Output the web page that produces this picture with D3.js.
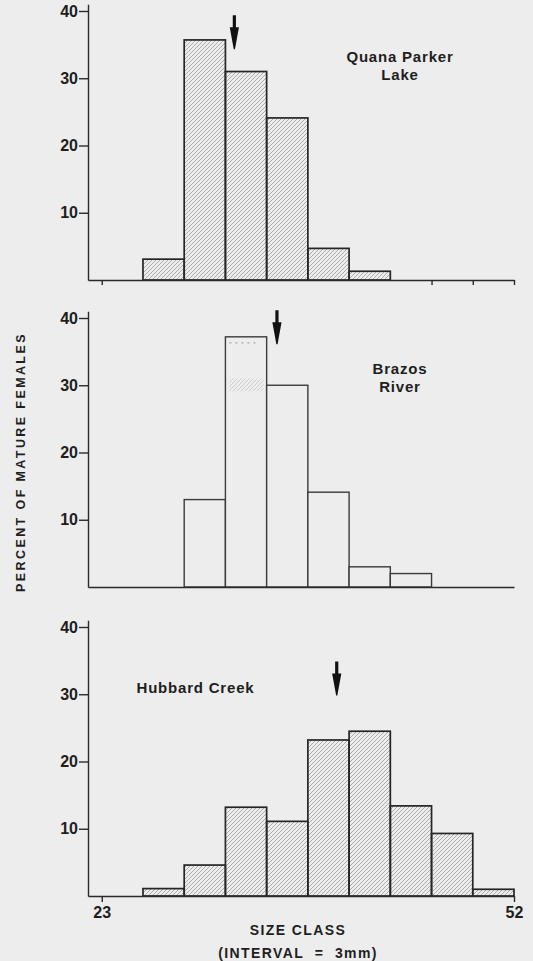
<!DOCTYPE html>
<html>
<head>
<meta charset="utf-8">
<script src="https://cdn.jsdelivr.net/npm/d3@7/dist/d3.min.js"></script>
<style>
  html, body { margin: 0; padding: 0; background: #ededed; }
  svg { display: block; }
  text { font-family: "Liberation Sans", Arial, Helvetica, sans-serif; fill: #1e1e1e; font-weight: bold; }
</style>
</head>
<body>
<svg id="chart" width="533" height="961"></svg>
<script>
// Size classes (lower bound, mm); each class spans 3 mm
const classStarts = [23, 26, 29, 32, 35, 38, 41, 44, 47, 50];
const classWidth = 3;

// Percent of mature females in each size class
const quanaParker  = [0, 3.1, 35.7, 31.0, 24.1, 4.7, 1.3, 0, 0, 0];
const brazosRiver  = [0, 0, 13.0, 37.2, 30.0, 14.1, 3.0, 2.0, 0, 0];
const hubbardCreek = [0, 1.1, 4.6, 13.2, 11.1, 23.2, 24.5, 13.4, 9.3, 1.0];

const panelNames = [["Quana Parker", "Lake"], ["Brazos", "River"], ["Hubbard Creek"]];

// Mean size (mm) marked by the arrow, and the percent level of the arrow tip
const meanSize = [32.65, 35.75, 40.1];
const arrowTip = [34.3, 36.1, 29.8];

// Faint partial shading inside the Brazos 32–34 mm class
const brazosShadeBand = [29.1, 31.0];
const brazosDottedLevel = 36.3;

const yTicks = [10, 20, 30, 40];
const xTickEdges = [23, 53];
const xTickLabels = ["23", "52"];
const topPanelTicks = [23, 47, 50, 53];

const yTitle = "PERCENT OF MATURE FEMALES";
const xTitle = "SIZE CLASS";
const xSubTitle = "(INTERVAL\u00a0\u00a0=\u00a0\u00a03mm)";

const series = [quanaParker, brazosRiver, hubbardCreek];

const svg = d3.select("#chart");
const defs = svg.append("defs");

// Diagonal hatch fill
const hatch = defs.append("pattern")
  .attr("id", "hatch")
  .attr("patternUnits", "userSpaceOnUse")
  .attr("width", 4).attr("height", 4);
hatch.append("path")
  .attr("d", "M-1,1 l2,-2 M0,4 l4,-4 M3,5 l2,-2")
  .attr("stroke", "#8e8e8e").attr("stroke-width", 0.7);

const x = d3.scaleLinear().domain([22, 53]).range([88, 514]);

const baselines = [280, 587, 896];
const span40 = 269;

series.forEach((vals, i) => {
  const base = baselines[i];
  const y = d3.scaleLinear().domain([0, 41]).range([base, base - span40 * 41 / 40]);
  const g = svg.append("g").attr("class", "panel");

  const bins = classStarts.map((s, j) => ({ start: s, value: vals[j] })).filter(d => d.value > 0);

  g.selectAll("rect.bar").data(bins).enter().append("rect")
    .attr("class", "bar")
    .attr("x", d => x(d.start))
    .attr("y", d => y(d.value))
    .attr("width", d => x(d.start + classWidth) - x(d.start))
    .attr("height", d => y(0) - y(d.value))
    .attr("fill", i === 1 ? "#ededed" : "url(#hatch)")
    .attr("stroke", i === 1 ? "#3a3a3a" : "#262626")
    .attr("stroke-width", i === 1 ? 1.4 : 1.7);

  if (i === 1) {
    const cls = 32;
    const x0 = x(cls) + 4, x1 = x(cls + classWidth) - 3;
    g.append("rect")
      .attr("x", x0).attr("width", x1 - x0)
      .attr("y", y(brazosShadeBand[1]))
      .attr("height", y(brazosShadeBand[0]) - y(brazosShadeBand[1]))
      .attr("fill", "url(#hatch)").attr("opacity", 0.45);
    g.append("line")
      .attr("x1", x0).attr("x2", x1 - 8)
      .attr("y1", y(brazosDottedLevel)).attr("y2", y(brazosDottedLevel))
      .attr("stroke", "#8a8a8a").attr("stroke-width", 0.9)
      .attr("stroke-dasharray", "2,4");
  }

  // Left axis
  const yAxis = g.append("g")
    .attr("transform", `translate(${x(22)},0)`)
    .call(d3.axisLeft(y).tickValues(yTicks).tickSize(9).tickPadding(1).tickSizeOuter(0));
  yAxis.attr("font-family", null).attr("font-size", null);
  yAxis.selectAll("path, line").attr("stroke", "#2a2a2a").attr("stroke-width", 1.4);
  yAxis.selectAll("text").style("font-size", "16px").attr("fill", "#1e1e1e");

  // Baseline and bottom ticks
  let xAx;
  if (i === 0) {
    xAx = d3.axisBottom(x).tickValues(topPanelTicks).tickSize(5).tickFormat(() => "");
  } else if (i === 2) {
    xAx = d3.axisBottom(x).tickValues(xTickEdges).tickSize(6).tickPadding(5)
      .tickFormat((d) => xTickLabels[xTickEdges.indexOf(d)]);
  } else {
    xAx = d3.axisBottom(x).tickValues([]);
  }
  xAx.tickSizeOuter(0);
  const xAxis = g.append("g").attr("transform", `translate(0,${y(0)})`).call(xAx);
  xAxis.attr("font-family", null).attr("font-size", null);
  xAxis.selectAll("path, line").attr("stroke", "#2a2a2a").attr("stroke-width", 1.4);
  xAxis.selectAll("text").style("font-size", "16px").attr("fill", "#1e1e1e");

  // Mean-size arrow
  const tx = x(meanSize[i]), ty = y(arrowTip[i]);
  g.append("path")
    .attr("d", `M${tx - 1.6},${ty - 34} L${tx + 1.6},${ty - 34} L${tx + 1.6},${ty - 22} L${tx + 4.6},${ty - 22}
                L${tx + 0.6},${ty} L${tx - 0.6},${ty} L${tx - 4.6},${ty - 22} L${tx - 1.6},${ty - 22} Z`)
    .attr("fill", "#111");
});

// Panel names
const nameStyle = sel => sel.style("font-size", "15px").style("letter-spacing", "0.8px");
panelNames[0].forEach((t, k) => {
  svg.append("text").attr("x", 400).attr("y", 62 + k * 18).attr("text-anchor", "middle").text(t).call(nameStyle);
});
panelNames[1].forEach((t, k) => {
  svg.append("text").attr("x", 400).attr("y", 374 + k * 18).attr("text-anchor", "middle").text(t).call(nameStyle);
});
svg.append("text").attr("x", 136.5).attr("y", 693).attr("text-anchor", "start").text(panelNames[2][0]).call(nameStyle);

// Axis titles
svg.append("text")
  .attr("transform", "translate(25,462) rotate(-90)")
  .attr("text-anchor", "middle")
  .style("font-size", "12.5px").style("letter-spacing", "2.4px")
  .text(yTitle);

svg.append("text").attr("x", 298).attr("y", 935).attr("text-anchor", "middle")
  .style("font-size", "14px").style("letter-spacing", "1.4px").text(xTitle);
svg.append("text").attr("x", 298).attr("y", 957.5).attr("text-anchor", "middle")
  .style("font-size", "14px").style("letter-spacing", "1.4px").text(xSubTitle);
</script>
</body>
</html>
